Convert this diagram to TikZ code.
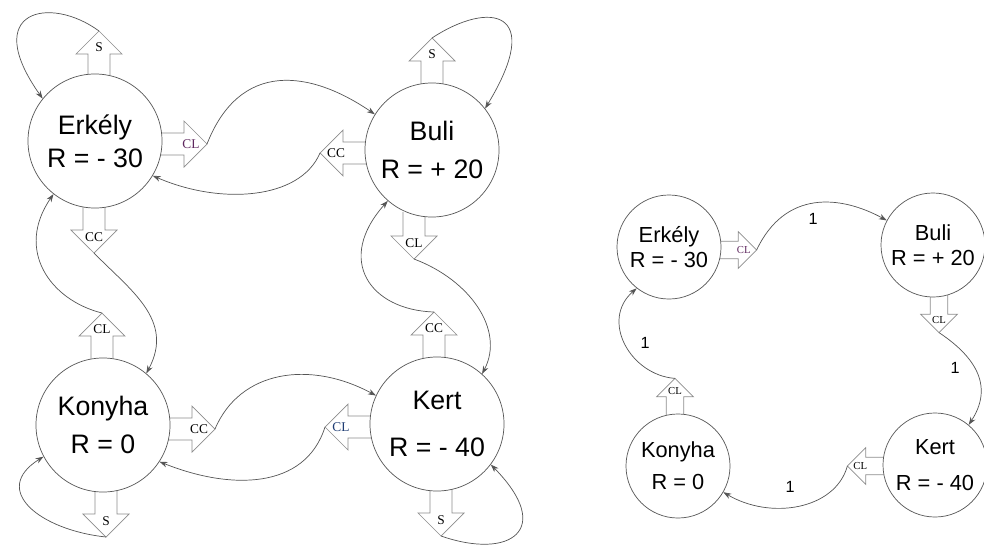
\documentclass[tikz,border=0pt]{standalone}
\usepackage{fontspec}
\setmainfont{Liberation Sans}
\newfontfamily\arrowfont{Liberation Serif}
\usetikzlibrary{arrows.meta, calc, backgrounds}
\definecolor{linegray}{RGB}{85,85,85}
\definecolor{boxgray}{RGB}{140,140,140}
\definecolor{lblpurple}{RGB}{95,40,95}
\definecolor{lblblue}{RGB}{30,60,115}
\tikzset{
  room/.style={circle, draw=linegray, fill=white, line width=0.5pt, minimum size=3.35cm, inner sep=0pt, align=center, font=\fontsize{19}{23.4}\selectfont},
  roomR/.style={room, minimum size=2.6cm, font=\fontsize{15.5}{17.7}\selectfont},
  blockarrow/.style={draw=boxgray, fill=white, line width=0.5pt, line join=miter},
  blocklbl/.style={inner sep=0pt, font=\arrowfont\fontsize{9.5}{10}\selectfont},
  trans/.style={-{Stealth[length=2mm, width=1.4mm]}, draw=linegray, line width=0.5pt},
  problbl/.style={font=\fontsize{11.5}{13}\selectfont},
}
% hollow block arrow: [scale]{base}{angle}{label}{tip name}
\newcommand{\blockarr}[5][1]{%
  \begin{scope}[shift={#2}, rotate=#3, scale=#1]
    \draw[blockarrow] (0,-11) -- (24,-11) -- (24,-23) -- (47,0) -- (24,23) -- (24,11) -- (0,11);
    \coordinate (#5) at (47,0);
    \node[blocklbl, scale=#1] at (31,0) {#4};
  \end{scope}}

\begin{document}
\begin{tikzpicture}[x=0.025cm, y=-0.025cm]
\useasboundingbox (0,0) rectangle (984,552);
% full model
\node (erk)  [room] at (95,141)  {Erkély\\R = - 30};
\node (buli) [room] at (432,150) {Buli\\[3.5pt]R = + 20};
\node (kon)  [room] at (103,425) {Konyha\\[4pt]R = 0};
\node (kert) [room] at (437,424) {Kert\\[10pt]R = - 40};
% policy
\node (erkR)  [roomR] at (669,247) {Erkély\\R = - 30};
\node (buliR) [roomR] at (933,245) {Buli\\R = + 20};
\node (konR)  [roomR] at (678,466) {Konyha\\[5pt]R = 0};
\node (kertR) [roomR] at (935,465) {Kert\\[8pt]R = - 40};

\begin{scope}[on background layer]
\blockarr{($(erk)+(4,-63)$)}{90}{S}{erkS}
\blockarr{($(erk)+(65,3)$)}{0}{\textcolor{lblpurple}{CL}}{erkCL}
\blockarr{($(erk)+(-1,65)$)}{-90}{CC}{erkCC}
\blockarr{($(buli)+(0,-65)$)}{90}{S}{buliS}
\blockarr{($(buli)+(-65,3)$)}{180}{CC}{buliCC}
\blockarr{($(buli)+(-18,62)$)}{-90}{CL}{buliCL}
\blockarr{($(kon)+(-1,-65)$)}{90}{CL}{konCL}
\blockarr{($(kon)+(65,4)$)}{0}{CC}{konCC}
\blockarr{($(kon)+(3,65)$)}{-90}{S}{konS}
\blockarr{($(kert)+(-3,-65)$)}{90}{CC}{kertCC}
\blockarr{($(kert)+(-65,3)$)}{180}{\textcolor{lblblue}{CL}}{kertCL}
\blockarr{($(kert)+(4,65)$)}{-90}{S}{kertS}
\blockarr[0.8]{($(erkR)+(50,3)$)}{0}{\textcolor{lblpurple}{CL}}{erkRCL}
\blockarr[0.8]{($(buliR)+(6,50)$)}{-90}{CL}{buliRCL}
\blockarr[0.8]{($(kertR)+(-50,1)$)}{180}{CL}{kertRCL}
\blockarr[0.8]{($(konR)+(-3,-50)$)}{90}{CL}{konRCL}
\end{scope}

\draw[trans] (erkS) .. controls (50,-5) and (-20,10) .. (erk.141);
\draw[trans] (erkCL) .. controls (240,60) and (310,70) .. (buli.148);
\draw[trans] (buliCC) .. controls (300,200) and (220,205) .. (erk.-31);
\draw[trans] (erkCC) .. controls (130,290) and (175,320) .. (kon.50);
\draw[trans] (konCL) .. controls (50,300) and (15,250) .. (erk.-128);
\draw[trans] (konS) .. controls (40,530) and (-10,490) .. (kon.-152);
\draw[trans] (konCC) .. controls (240,370) and (310,360) .. (kert.155);
\draw[trans] (kertCL) .. controls (305,490) and (230,490) .. (kon.-33);
\draw[trans] (buliCL) .. controls (470,280) and (505,330) .. (kert.48);
\draw[trans] (kertCC) .. controls (370,310) and (335,260) .. (buli.-131);
\draw[trans] (buliS) .. controls (490,0) and (545,10) .. (buli.38);
\draw[trans] (kertS) .. controls (510,560) and (555,530) .. (kert.-37);

\draw[trans] (erkRCL) .. controls (785,190) and (840,195) .. (buliR.152) node[problbl] at (813,219) {1};
\draw[trans] (buliRCL) .. controls (965,350) and (998,380) .. (kertR.50) node[problbl] at (955,368) {1};
\draw[trans] (kertRCL) .. controls (835,510) and (770,520) .. (konR.-30) node[problbl] at (790,487) {1};
\draw[trans] (konRCL) .. controls (630,375) and (600,320) .. (erkR.-128) node[problbl] at (645,343) {1};
\end{tikzpicture}
\end{document}
